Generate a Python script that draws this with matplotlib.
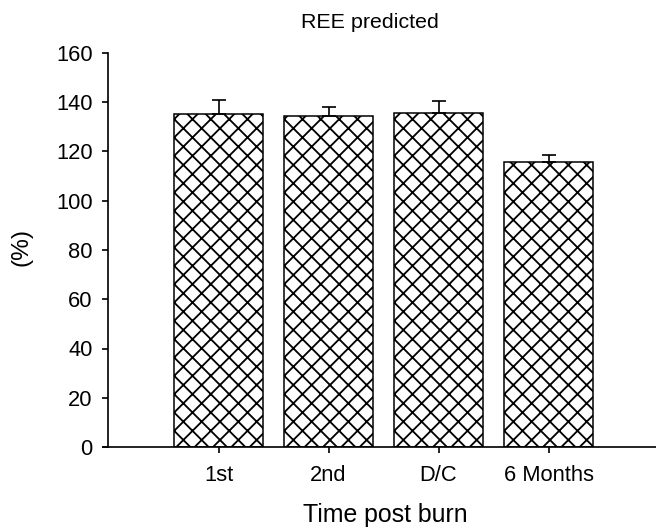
import numpy as np
import matplotlib
matplotlib.use("Agg")
import matplotlib.pyplot as plt

# values
labels = ["1st", "2nd", "D/C", "6 Months"]
ree = [135.2, 134.4, 135.5, 115.9]
err_up = [5.8, 3.8, 5.0, 2.8]

plt.rcParams["font.family"] = ["Liberation Sans", "DejaVu Sans"]
plt.rcParams["hatch.linewidth"] = 1.2
plt.rcParams["hatch.color"] = "black"

dpi = 110
fig = plt.figure(figsize=(656 / dpi, 527 / dpi), dpi=dpi)
ax = fig.add_axes([103 / 656, 80 / 527, 553 / 656, 394 / 527])

x = np.arange(len(labels))
ax.bar(x, ree, width=0.81, color="white", edgecolor="black",
       linewidth=1.0, hatch="xx", zorder=2)
ax.errorbar(x, ree, yerr=[np.zeros(len(ree)), err_up], fmt="none",
            ecolor="black", elinewidth=1.1, capsize=4.3, capthick=1.1,
            zorder=3)

ax.set_xlim(-1.05, 3.977)
ax.set_ylim(0, 160)
ax.set_yticks(np.arange(0, 161, 20))
ax.set_xticks(x)
ax.set_xticklabels(labels)

for side in ["top", "right"]:
    ax.spines[side].set_visible(False)
ax.spines["left"].set_position(("data", -1.005))
ax.spines["left"].set_linewidth(1.1)
ax.spines["bottom"].set_linewidth(1.1)

ax.tick_params(axis="both", direction="out", length=4, width=1.1,
               labelsize=14.3)
ax.tick_params(axis="x", pad=8)
ax.tick_params(axis="y", pad=6)

fig.text(370 / 656, 1 - 28 / 527, "REE predicted", ha="center",
         va="baseline", fontsize=14)
fig.text(385 / 656, 1 - 522 / 527, "Time post burn", ha="center",
         va="baseline", fontsize=16.3)
fig.text(21 / 656, 1 - 247 / 527, "(%)", ha="center", va="center",
         rotation=90, fontsize=16)

fig.savefig("out.png", dpi=dpi)
